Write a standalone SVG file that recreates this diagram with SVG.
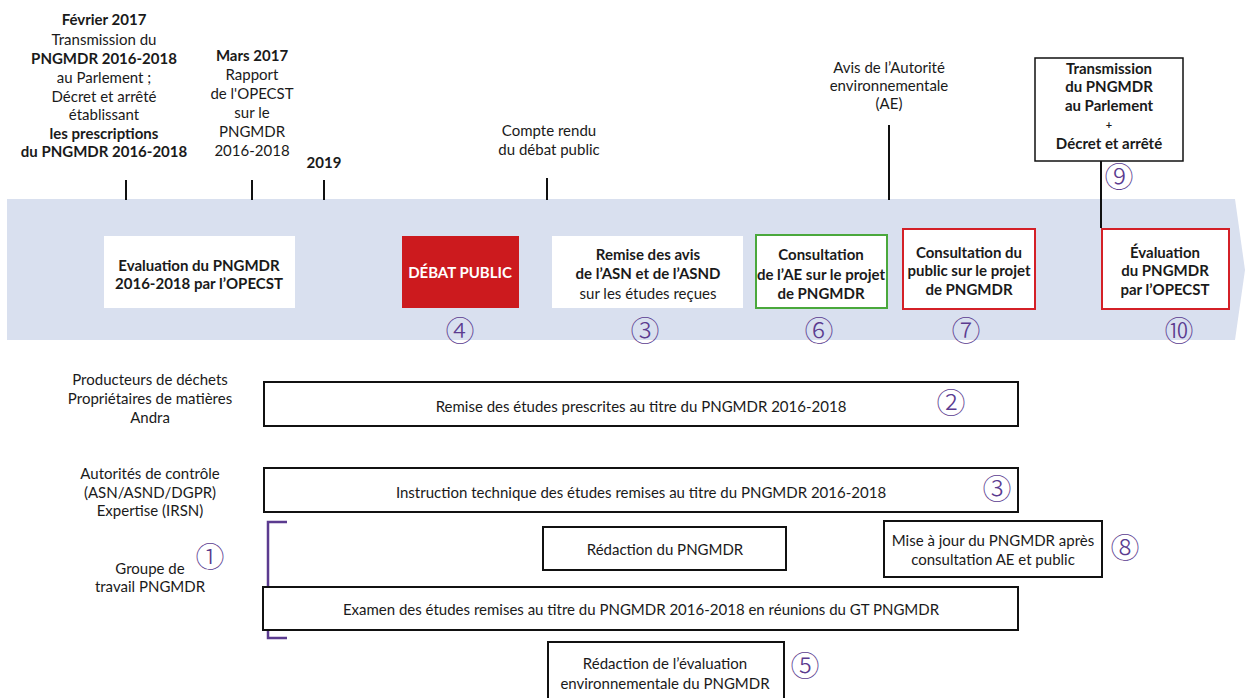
<svg xmlns="http://www.w3.org/2000/svg" width="1245" height="698" viewBox="0 0 1245 698">
<style>
text{font-family:Lato,"Noto Sans",sans-serif;font-size:15px;fill:#1a1a1a;text-anchor:middle}
.b{font-weight:bold}
.w{fill:#fff}
.s{font-size:15px}
.num{font-family:"Noto Sans CJK JP","DejaVu Sans",sans-serif;font-weight:300;font-size:29px;fill:#5b3b8f}
.box{fill:#fff;stroke:#111;stroke-width:2}
.plain{fill:#fff}
.tick{stroke:#111;stroke-width:2;fill:none}
</style>
<rect width="1245" height="698" fill="#fff"/>
<g id="band"><polygon points="7,199 1235,199 1245,270 1235,340 7,340" fill="#d9e0ef"/></g>
<g id="connectors">
<line class="tick" x1="126" y1="180" x2="126" y2="200"/>
<line class="tick" x1="252" y1="180" x2="252" y2="200"/>
<line class="tick" x1="324" y1="180" x2="324" y2="200"/>
<line class="tick" x1="547" y1="178" x2="547" y2="200"/>
<line class="tick" x1="889" y1="125" x2="889" y2="200"/>
<line class="tick" x1="1101" y1="161" x2="1101" y2="228"/>
<path d="M287,522 H268 V638 H287" fill="none" stroke="#5b3b8f" stroke-width="2.5"/>
</g>
<g id="fev2017">
<text x="104" y="25" class="b">Février 2017</text>
<text x="104" y="45">Transmission du</text>
<text x="104" y="64" class="b">PNGMDR 2016-2018</text>
<text x="104" y="83">au Parlement ;</text>
<text x="104" y="102">Décret et arrêté</text>
<text x="104" y="120">établissant</text>
<text x="104" y="139" class="b">les prescriptions</text>
<text x="104" y="157" class="b">du PNGMDR 2016-2018</text>
</g>
<g id="mars2017">
<text x="252" y="61" class="b">Mars 2017</text>
<text x="252" y="80">Rapport</text>
<text x="252" y="99">de l'OPECST</text>
<text x="252" y="118">sur le</text>
<text x="252" y="137">PNGMDR</text>
<text x="252" y="156">2016-2018</text>
</g>
<g id="y2019"><text x="324" y="168" class="b">2019</text></g>
<g id="compte-rendu">
<text x="549" y="136">Compte rendu</text>
<text x="549" y="155">du débat public</text>
</g>
<g id="avis-ae">
<text x="889" y="73">Avis de l’Autorité</text>
<text x="889" y="91">environnementale</text>
<text x="889" y="109">(AE)</text>
</g>
<g id="transmission">
<rect x="1035" y="58" width="148" height="103" fill="#fff" stroke="#111" stroke-width="1.5"/>
<text x="1109" y="74" class="b s">Transmission</text>
<text x="1109" y="92" class="b s">du PNGMDR</text>
<text x="1109" y="111" class="b s">au Parlement</text>
<text x="1109" y="129" class="b" style="font-size:11px">+</text>
<text x="1109" y="149" class="b s">Décret et arrêté</text>
<text x="1119" y="188" class="num">⑨</text>
</g>
<g id="eval-opecst-2016">
<rect class="plain" x="104" y="236" width="191" height="72"/>
<text x="199" y="271" class="b">Evaluation du PNGMDR</text>
<text x="199" y="289" class="b">2016-2018 par l’OPECST</text>
</g>
<g id="debat-public">
<rect x="402" y="236" width="117" height="72" fill="#cc1a1e"/>
<text x="460" y="278" class="b w">DÉBAT PUBLIC</text>
<text x="460" y="342" class="num">④</text>
</g>
<g id="remise-avis">
<rect class="plain" x="552" y="236" width="191" height="72"/>
<text x="648" y="260" class="b">Remise des avis</text>
<text x="648" y="279" class="b">de l’ASN et de l’ASND</text>
<text x="648" y="299">sur les études reçues</text>
<text x="645" y="342" class="num">③</text>
</g>
<g id="consult-ae">
<rect x="756" y="235" width="131" height="73" fill="#fff" stroke="#4aa83c" stroke-width="2"/>
<text x="821" y="260" class="b">Consultation</text>
<text x="821" y="280" class="b">de l’AE sur le projet</text>
<text x="821" y="299" class="b">de PNGMDR</text>
<text x="819" y="342" class="num">⑥</text>
</g>
<g id="consult-public">
<rect x="903" y="229" width="132" height="80" fill="#fff" stroke="#d42027" stroke-width="2"/>
<text x="969" y="258" class="b">Consultation du</text>
<text x="969" y="276" class="b">public sur le projet</text>
<text x="969" y="295" class="b">de PNGMDR</text>
<text x="966" y="342" class="num">⑦</text>
</g>
<g id="eval-opecst">
<rect x="1102" y="229" width="127" height="80" fill="#fff" stroke="#d42027" stroke-width="2"/>
<text x="1165" y="258" class="b">Évaluation</text>
<text x="1165" y="276" class="b">du PNGMDR</text>
<text x="1165" y="295" class="b">par l’OPECST</text>
<text x="1179" y="342" class="num">⑩</text>
</g>
<g id="producteurs">
<text x="150" y="385">Producteurs de déchets</text>
<text x="150" y="404">Propriétaires de matières</text>
<text x="150" y="423">Andra</text>
</g>
<g id="autorites">
<text x="150" y="479">Autorités de contrôle</text>
<text x="150" y="498">(ASN/ASND/DGPR)</text>
<text x="150" y="516">Expertise (IRSN)</text>
</g>
<g id="groupe">
<text x="150" y="574">Groupe de</text>
<text x="150" y="592">travail PNGMDR</text>
<text x="210" y="568" class="num">①</text>
</g>
<g id="remise-etudes">
<rect class="box" x="264" y="382" width="754" height="44"/>
<text x="641" y="412">Remise des études prescrites au titre du PNGMDR 2016-2018</text>
<text x="951" y="414" class="num">②</text>
</g>
<g id="instruction">
<rect class="box" x="264" y="468" width="754" height="44"/>
<text x="641" y="498">Instruction technique des études remises au titre du PNGMDR 2016-2018</text>
<text x="997" y="500" class="num">③</text>
</g>
<g id="redaction">
<rect class="box" x="543" y="527" width="243" height="43"/>
<text x="665" y="555">Rédaction du PNGMDR</text>
</g>
<g id="mise-a-jour">
<rect class="box" x="884" y="521" width="218" height="56"/>
<text x="993" y="546">Mise à jour du PNGMDR après</text>
<text x="993" y="565">consultation AE et public</text>
<text x="1125" y="559" class="num">⑧</text>
</g>
<g id="examen">
<rect class="box" x="263" y="587" width="755" height="43"/>
<text x="641" y="615">Examen des études remises au titre du PNGMDR 2016-2018 en réunions du GT PNGMDR</text>
</g>
<g id="redaction-ee">
<rect class="box" x="548" y="642" width="236" height="60"/>
<text x="665" y="669">Rédaction de l’évaluation</text>
<text x="665" y="689">environnementale du PNGMDR</text>
<text x="805" y="677" class="num">⑤</text>
</g>
</svg>
